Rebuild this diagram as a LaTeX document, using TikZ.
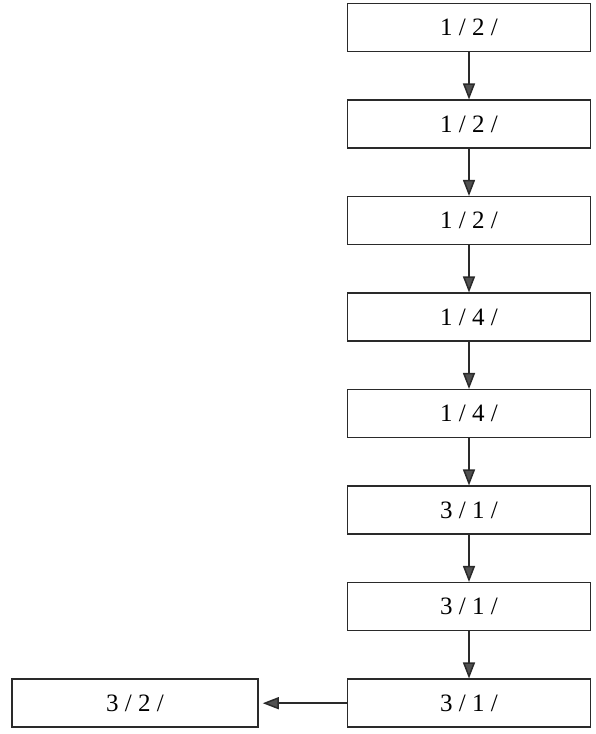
\documentclass[tikz,border=0pt]{standalone}
\usepackage{fontspec}
\setmainfont{Liberation Serif}
\usepackage{tikz}
\usetikzlibrary{positioning}
\usetikzlibrary{arrows.meta}
\definecolor{lineColor}{HTML}{2a2a2a}
\definecolor{tipColor}{HTML}{505050}

\begin{document}
\begin{tikzpicture}[
		x=1pt, y=1pt,
		arrow/.style={-{Triangle[length=16pt, width=12pt, fill=tipColor]}, draw=lineColor, line width=1.5pt},
		box/.style={rectangle, draw=lineColor, line width=1.5pt, minimum width=243pt, minimum height=48pt, inner sep=0pt, font=\fontsize{25}{28}\selectfont},
	]
	\useasboundingbox (0, 0) rectangle (596, -734);
	% Chain of boxes
	\node[box] (step 1) at (469, -27.7) {1 / 2 /};
	\node[box, below=47pt of step 1] (step 2) {1 / 2 /};
	\node[box, below=47pt of step 2] (step 3) {1 / 2 /};
	\node[box, below=47pt of step 3] (step 4) {1 / 4 /};
	\node[box, below=47pt of step 4] (step 5) {1 / 4 /};
	\node[box, below=47pt of step 5] (step 6) {3 / 1 /};
	\node[box, below=47pt of step 6] (step 7) {3 / 1 /};
	\node[box, below=47pt of step 7] (step 8) {3 / 1 /};
	\node[box, minimum width=246pt, left=88pt of step 8] (result) {3 / 2 /};
	% Arrows
	\draw[arrow] (step 1) -- (step 2);
	\draw[arrow] (step 2) -- (step 3);
	\draw[arrow] (step 3) -- (step 4);
	\draw[arrow] (step 4) -- (step 5);
	\draw[arrow] (step 5) -- (step 6);
	\draw[arrow] (step 6) -- (step 7);
	\draw[arrow] (step 7) -- (step 8);
	\draw[arrow, shorten >=4pt] (step 8) -- (result);
\end{tikzpicture}
\end{document}
